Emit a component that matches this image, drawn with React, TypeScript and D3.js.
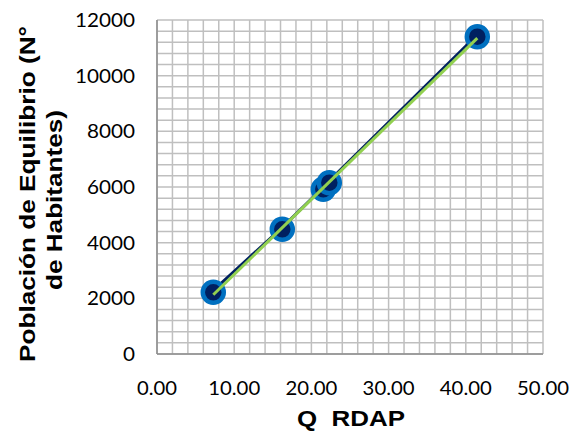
import React from "react";
import * as d3 from "d3";

const qValues = [7.29, 16.23, 21.54, 22.32, 41.49];
const popValues = [2217, 4480, 5917, 6155, 11400];
const xTicks = [0, 10, 20, 30, 40, 50];
const yTicks = [0, 2000, 4000, 6000, 8000, 10000, 12000];

export default function App() {
  const W = 572, H = 432;
  const m = { left: 157, right: 543, top: 20, bottom: 354 };
  const x = d3.scaleLinear().domain([0, 50]).range([m.left, m.right]);
  const y = d3.scaleLinear().domain([0, 12000]).range([m.bottom, m.top]);
  const xMinor = d3.range(0, 50.001, 2);
  const yMinor = d3.range(0, 12000.1, 400);
  const pts = qValues.map((q, i) => [q, popValues[i]] as [number, number]);
  const line = d3.line<[number, number]>().x(d => x(d[0])).y(d => y(d[1]));
  // linear trendline
  const mx = d3.mean(qValues)!, my = d3.mean(popValues)!;
  const slope = d3.sum(pts, d => (d[0] - mx) * (d[1] - my)) / d3.sum(pts, d => (d[0] - mx) ** 2);
  const icpt = my - slope * mx;
  const x0 = d3.min(qValues)!, x1 = d3.max(qValues)!;
  const trend: [number, number][] = [[x0, icpt + slope * x0], [x1, icpt + slope * x1]];
  const tickFont = "Lato, 'Open Sans', sans-serif";
  const titleFont = "'Liberation Sans', Arial, sans-serif";
  const tl = (s: string) => s.replace(/[^0-9]/g, "").length * 12 + s.replace(/[0-9]/g, "").length * 4;
  return (
    <svg width={W} height={H} style={{ position: "absolute", left: 0, top: 0, background: "#fff" }}>
      <g>
        {xMinor.map(v => (
          <line key={"gx" + v} x1={x(v)} x2={x(v)} y1={m.top} y2={m.bottom} stroke="#BFBFBF" strokeWidth={1.5} />
        ))}
        {yMinor.map(v => (
          <line key={"gy" + v} x1={m.left} x2={m.right} y1={y(v)} y2={y(v)} stroke="#BFBFBF" strokeWidth={1.5} />
        ))}
        <line x1={m.left} x2={m.left} y1={m.top} y2={m.bottom} stroke="#8C8C8C" strokeWidth={1.5} />
        <line x1={m.left} x2={m.right} y1={m.bottom} y2={m.bottom} stroke="#8C8C8C" strokeWidth={1.5} />
      </g>
      <path d={line(pts)!} fill="none" stroke="#002060" strokeWidth={3} transform="translate(-1,-1)" />
      {pts.map((d, i) => (
        <circle key={i} cx={x(d[0])} cy={y(d[1])} r={10.5} fill="#002060" stroke="#0070C0" strokeWidth={4.5} />
      ))}
      <path d={line(trend)!} fill="none" stroke="#92D050" strokeWidth={3} />
      <g fontFamily={tickFont} fontSize={19} fill="#000">
        {yTicks.map(v => (
          <text key={"yt" + v} x={135} y={y(v) + 7} textAnchor="end" textLength={tl(String(v))} lengthAdjust="spacingAndGlyphs">{v}</text>
        ))}
        {xTicks.map(v => (
          <text key={"xt" + v} x={x(v)} y={395} textAnchor="middle" textLength={tl(v.toFixed(2))} lengthAdjust="spacingAndGlyphs">{v.toFixed(2)}</text>
        ))}
      </g>
      <text x={351} y={426} textAnchor="middle" fontFamily={titleFont} fontWeight="bold" fontSize={22} xmlSpace="preserve" textLength={108} lengthAdjust="spacingAndGlyphs">Q  RDAP</text>
      <g transform="rotate(-90)" fontFamily={titleFont} fontWeight="bold" fontSize={22} textAnchor="middle">
        <text x={-194} y={35} textLength={336} lengthAdjust="spacingAndGlyphs">Población de Equilibrio (N°</text>
        <text x={-200} y={62} textLength={180} lengthAdjust="spacingAndGlyphs">de Habitantes)</text>
      </g>
    </svg>
  );
}
